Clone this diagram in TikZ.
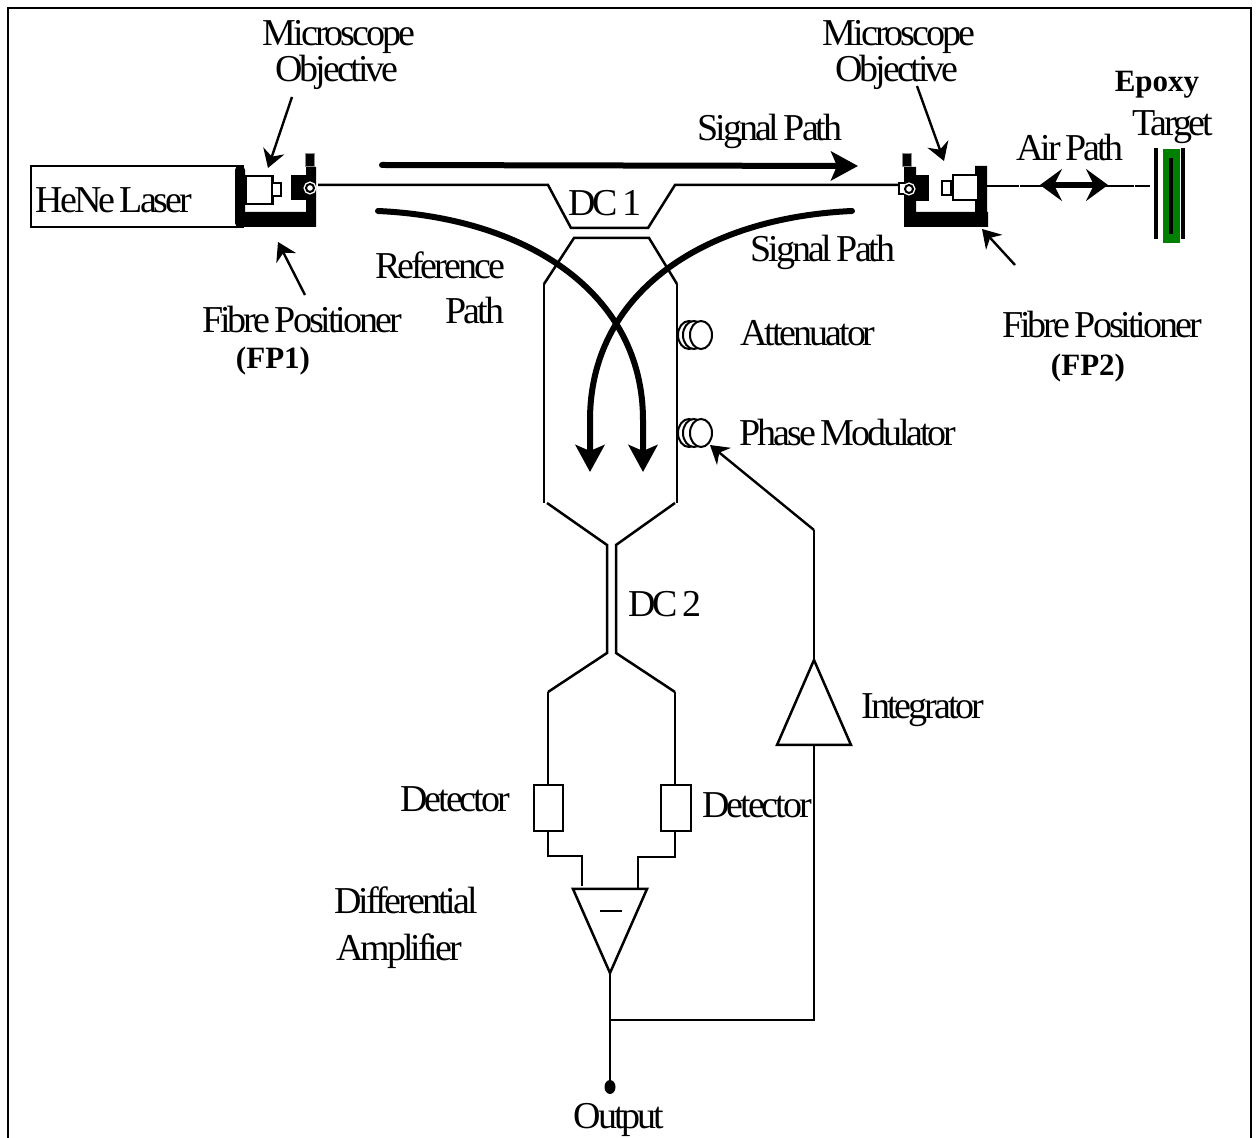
\documentclass[tikz,border=0pt]{standalone}
\usepackage{fontspec}
\setmainfont[LetterSpace=-8,WordSpace=0.7]{Liberation Serif}
\newfontfamily\boldtag{Liberation Serif}
\usetikzlibrary{arrows.meta,shapes.geometric}
\tikzset{
  fibre/.style={line width=1.25pt},
  lbl/.style={
    anchor=base,
    inner sep=0pt,
    yshift=-0.5pt,
    font=\fontsize{19}{21}\selectfont
  },
  tag/.style={
    anchor=base,
    inner sep=0pt,
    font=\boldtag\bfseries\fontsize{15.5}{18}\selectfont
  },
  ptr/.style={
    line width=1.2pt,
    -{Stealth[length=9pt,width=11pt,inset=3pt]}
  },
  patharrow/.style={
    line width=3pt,
    line cap=round,
    -{Stealth[length=13.5pt,width=14.5pt,inset=3pt]}
  },
  coil/.style={
    draw,
    fill=white,
    line width=1pt,
    shape=ellipse,
    inner sep=0pt,
    minimum width=11pt,
    minimum height=14pt
  },
  lens/.style={
    draw,
    fill=white,
    line width=1.4pt,
    inner sep=0pt
  },
  knob/.style={
    draw=black!45,
    fill=black,
    line width=0.5pt,
    inner sep=0pt,
    minimum width=4.5pt,
    minimum height=6.5pt
  },
  ring/.style={
    draw,
    fill=white,
    line width=1pt,
    shape=circle,
    inner sep=0pt,
    minimum size=4pt,
    preaction={draw=white,line width=2.4pt}
  }
}
\begin{document}
\begin{tikzpicture}[x=0.5pt,y=-0.5pt]
  \useasboundingbox (0,0) rectangle (1260,1138);
  \draw[line width=1pt] (8,1145) -- (8,8) -- (1251,8) -- (1251,1145);

  % joints of the two couplers
  \foreach \n/\x/\y in {la/318/185,lb/548/185,lc/571/228,ld/648/228,le/675/185,lf/898/185,
      ua/574/238,ub/649/238,uc/544/284,ud/677/284,ue/544/503,uf/677/503,ug/547/503,uh/675/503,
      va/607/545,vb/616/545,vc/607/653,vd/616/653,ve/548/692,vf/675/692,
      oa/610/973,ob/610/1020,oc/814/1020,od/814/745,oe/814/660,of/814/530,og/710/445}{
    \coordinate (\n) at (\x,\y);
  }

  % laser and first positioner
  \node[draw,line width=1pt,minimum width=106pt,minimum height=30.5pt,inner sep=0pt] (laser) at (137,196.5) {};
  \node[lbl] (lasertext) at (114,212) {HeNe Laser};
  \fill[rounded corners=2pt] (235,166) rectangle (245,227);
  \fill (240,212) rectangle (316,227) (306,167) rectangle (316,227);
  \fill (291,175) rectangle (306,200);
  \node[draw,line width=1.2pt,fill=white,minimum width=13.5pt,minimum height=14pt,inner sep=0pt] (obja) at (259,190) {};
  \node[lens,minimum width=4.5pt,minimum height=6.5pt] (objb) at (276.5,189.5) {};
  \node[knob] (knoba) at (310,160) {};
  \node[ring] (ringa) at (310,188) {};

  % second positioner
  \fill (904,212) rectangle (988,227) (904,167) rectangle (916,227) (975,166) rectangle (987,212);
  \fill (916,175) rectangle (929,201);
  \node[lens,minimum width=12.5pt,minimum height=12.5pt] (objc) at (965.5,187.5) {};
  \node[lens,minimum width=4.5pt,minimum height=7pt] (objd) at (946.5,188) {};
  \node[knob] (knobb) at (907,160) {};
  \node[draw,fill=white,line width=1pt,minimum width=4pt,minimum height=5.5pt,inner sep=0pt] (collar) at (903,189) {};
  \node[ring] (ringb) at (909,189) {};

  % couplers
  \draw[fibre] (la) -- (lb) -- (lc) -- (ld) -- (le) -- (lf);
  \draw[fibre] (uc) -- (ua) -- (ub) -- (ud);
  \draw[fibre] (uc) -- (ue);
  \draw[fibre] (ud) -- (uf);
  \draw[fibre] (ug) -- (va) -- (vc) -- (ve);
  \draw[fibre] (uh) -- (vb) -- (vd) -- (vf);

  % target
  \coordinate (fa) at (987,186);
  \coordinate (fb) at (1150,186);
  \draw[line width=1.3pt,dash pattern=on 8pt off 0.2pt] (fa) -- (fb);
  \draw[line width=1.8pt] (1156,148) -- (1156,239);
  \draw[line width=1.8pt] (1183,148) -- (1183,239);
  \fill[green!50!black] (1163,149) rectangle (1180,243);
  \draw[line width=1.7pt] (1171,158) -- (1171,234);
  \coordinate (aa) at (1040,185);
  \coordinate (ab) at (1108,185);
  \draw[line width=2.6pt,{Stealth[length=11pt,width=16pt,inset=4pt]}-{Stealth[length=11pt,width=16pt,inset=4pt]}] (aa) -- (ab);

  % thick beam paths
  \coordinate (sa) at (382,165);
  \coordinate (sb) at (858,166);
  \draw[patharrow] (sa) -- (sb);
  \coordinate (ra) at (378,211);
  \coordinate (rb) at (643,472);
  \draw[patharrow] (ra) .. controls (530,218) and (643,295) .. (643,420) -- (rb);
  \coordinate (ta) at (852,211);
  \coordinate (tb) at (590,472);
  \draw[patharrow] (ta) .. controls (700,218) and (590,295) .. (590,420) -- (tb);

  % coils
  \foreach \x in {689,694,701}{
    \node[coil] (at\x) at (\x,335) {};
    \node[coil] (ph\x) at (\x,433) {};
  }

  % detectors and amplifier
  \node[draw,line width=1.2pt,minimum width=14.5pt,minimum height=23pt,inner sep=0pt] (deta) at (548.5,808) {};
  \node[draw,line width=1.2pt,minimum width=15pt,minimum height=23pt,inner sep=0pt] (detb) at (676,808) {};
  \draw[fibre] (ve) -- (ve |- deta.north);
  \draw[fibre] (vf) -- (vf |- detb.north);
  \coordinate (ampa) at (573,889);
  \coordinate (ampb) at (647,889);
  \draw[fibre] (ampa) -- (ampb) -- (oa) -- cycle;
  \draw[fibre] (548,831) -- (548,856) -- (582,856) -- (582,886);
  \draw[fibre] (675,831) -- (675,857) -- (638,857) -- (638,888);
  \coordinate (ma) at (600,911);
  \coordinate (mb) at (622,911);
  \draw[fibre] (ma) -- (mb);

  % output and feedback
  \node[fill,shape=ellipse,inner sep=0pt,minimum width=5.5pt,minimum height=7pt] (out) at (610,1087) {};
  \draw[fibre] (oa) -- (out);
  \draw[fibre] (ob) -- (oc) -- (od);
  \coordinate (inta) at (777,745);
  \coordinate (intb) at (851,745);
  \draw[fibre] (inta) -- (intb) -- (oe) -- cycle;
  \draw[fibre] (oe) -- (of);
  \draw[ptr] (of) -- (og);

  % pointers
  \coordinate (pa) at (292,97);
  \coordinate (pb) at (268,168);
  \draw[ptr] (pa) -- (pb);
  \coordinate (pc) at (305,295);
  \coordinate (pd) at (278,242);
  \draw[ptr] (pc) -- (pd);
  \coordinate (pe) at (917,86);
  \coordinate (pf) at (944,161);
  \draw[ptr] (pe) -- (pf);
  \coordinate (pg) at (1015,265);
  \coordinate (ph) at (982,229);
  \draw[ptr] (pg) -- (ph);

  % labels
  \node[lbl] (mica) at (339,45) {Microscope};
  \node[lbl] (mict) at (337,81) {Objective};
  \node[lbl] (micb) at (899,45) {Microscope};
  \node[lbl] (micu) at (897,81) {Objective};
  \node[lbl] (siga) at (770,140) {Signal Path};
  \node[lbl] (sigb) at (823,261) {Signal Path};
  \node[tag] (epoxy) at (1157,92) {Epoxy};
  \node[lbl] (target) at (1173,135) {Target};
  \node[lbl] (air) at (1070,160) {Air Path};
  \node[lbl] (dca) at (605,215) {DC 1};
  \node[lbl] (refa) at (440,278) {Reference};
  \node[lbl] (refb) at (475,323) {Path};
  \node[lbl] (fpa) at (302,332) {Fibre Positioner};
  \node[tag] (fpb) at (273,369) {(FP1)};
  \node[lbl] (fpc) at (1102,337) {Fibre Positioner};
  \node[tag] (fpd) at (1088,376) {(FP2)};
  \node[lbl] (atten) at (808,345) {Attenuator};
  \node[lbl] (phase) at (848,445) {Phase Modulator};
  \node[lbl] (dcb) at (665,616) {DC 2};
  \node[lbl] (integ) at (923,718) {Integrator};
  \node[lbl] (detla) at (455,811) {Detector};
  \node[lbl] (detlb) at (757,817) {Detector};
  \node[lbl] (diffa) at (406,913) {Differential};
  \node[lbl] (diffb) at (399,960) {Amplifier};
  \node[lbl] (outtext) at (619,1128) {Output};
\end{tikzpicture}
\end{document}
